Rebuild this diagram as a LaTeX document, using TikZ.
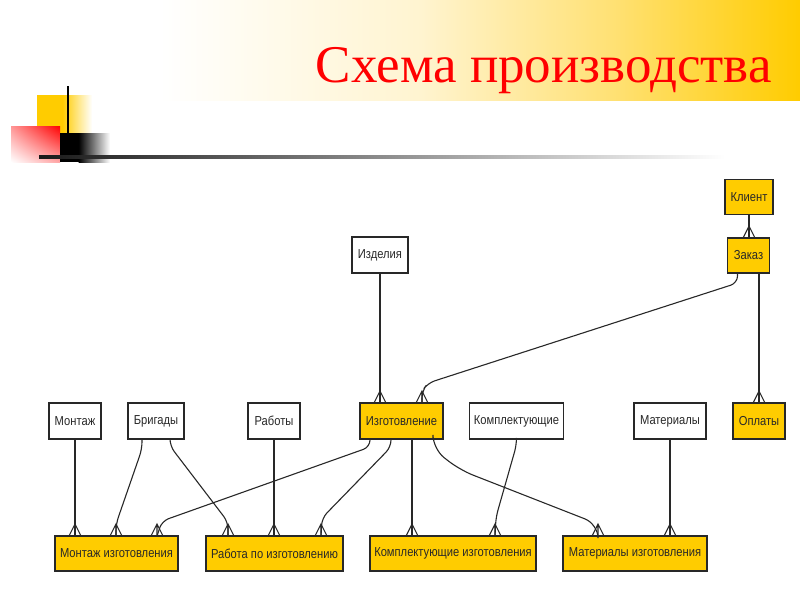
\documentclass[tikz,border=0pt]{standalone}
\usepackage{fontspec}
\setmainfont{Liberation Sans}
\newfontfamily\titlefont{Liberation Serif}
\newfontfamily\boxfont[FakeStretch=0.86]{Liberation Sans}
\usetikzlibrary{calc,shadings}
\definecolor{gold}{RGB}{255,204,0}
\definecolor{bandA}{RGB}{255,244,208}
\definecolor{bandB}{RGB}{255,224,112}
\definecolor{redA}{RGB}{255,150,150}
\definecolor{redB}{RGB}{255,165,165}
\definecolor{linec}{RGB}{40,40,40}
\begin{document}
\begin{tikzpicture}[x=1pt,y=-1pt,
  box/.style={draw=linec, line width=1.2pt, inner sep=0pt, outer sep=0pt, minimum height=36pt,
    font=\boxfont\fontsize{13}{15}\selectfont, text=linec},
  wbox/.style={box, fill=white},
  ybox/.style={box, fill=gold},
  conn/.style={draw=linec, line width=1.1pt, rounded corners=7pt},
  crow/.pic={\draw[draw=linec, line width=1.1pt, line join=miter] (-6,0) -- (0,-12) -- (6,0) (0,-12) -- (0,0);}
]
\useasboundingbox (0,0) rectangle (800,600);
\fill[white] (0,0) rectangle (800,600);
% top band
\shade[left color=white, right color=bandA] (160,0) rectangle (421,100);
\shade[left color=bandA, right color=bandB] (420,0) rectangle (621,100);
\shade[left color=bandB, right color=gold] (620,0) rectangle (800,100);
% decoration
\fill[gold] (37,95) rectangle (63,133);
\shade[left color=gold, right color=white] (62.5,95) rectangle (92,133);
\shade[upper right=red, upper left=redA, lower right=redB, lower left=white] (11,126) rectangle (60,162);
\fill[black] (60,133) rectangle (79,162);
\shade[left color=black, right color=white] (78.5,133) rectangle (110,162);
\draw[black, line width=2pt] (68,86) -- (68,162);
\shade[left color=black!90, right color=white] (39,155.8) rectangle (725,158.3);
% title
\node[anchor=base east, inner sep=0pt, text=red, font=\titlefont\fontsize{53}{53}\selectfont] (title) at (772,82) {Схема производства};

% nodes
\node[ybox, minimum width=48pt, minimum height=35pt] (klient) at (749,197) {Клиент};
\node[ybox, minimum width=42pt, minimum height=35pt] (zakaz) at (748.5,255.5) {Заказ};
\node[wbox, minimum width=56pt] (izdel) at (380,255) {Изделия};
\node[wbox, minimum width=52pt] (montazh) at (75,421) {Монтаж};
\node[wbox, minimum width=56pt] (brig) at (156,421) {Бригады};
\node[wbox, minimum width=52pt] (raboty) at (274,421) {Работы};
\node[ybox, minimum width=83pt] (izgot) at (401.5,421) {Изготовление};
\node[wbox, minimum width=94pt] (kompl) at (516.5,421) {Комплектующие};
\node[wbox, minimum width=72pt] (mater) at (670,421) {Материалы};
\node[ybox, minimum width=52pt] (oplaty) at (759,421) {Оплаты};
\node[ybox, minimum width=123pt, minimum height=35pt] (mi) at (116.5,553.5) {Монтаж изготовления};
\node[ybox, minimum width=137pt, minimum height=35pt] (rpi) at (274.5,553.5) {Работа по изготовлению};
\node[ybox, minimum width=166pt, minimum height=35pt] (ki) at (453,553.5) {Комплектующие изготовления};
\node[ybox, minimum width=144pt, minimum height=35pt] (mati) at (635,553.5) {Материалы изготовления};

% connector end points (crow's feet)
\coordinate (mi1) at (montazh.south |- mi.north);
\coordinate (mi2) at ($(mi.north west)+(61,0)$);
\coordinate (mi3) at ($(mi.north west)+(102,0)$);
\coordinate (rp1) at ($(rpi.north west)+(22,0)$);
\coordinate (rp2) at (raboty.south |- rpi.north);
\coordinate (rp3) at ($(rpi.north west)+(115,0)$);
\coordinate (ki1) at ($(ki.north west)+(42,0)$);
\coordinate (ki2) at ($(ki.north west)+(125,0)$);
\coordinate (ma1) at ($(mati.north west)+(35,0)$);
\coordinate (ma2) at (mater.south |- mati.north);
\coordinate (iz1) at (izdel.south |- izgot.north);
\coordinate (iz2) at ($(izgot.north west)+(62,0)$);
\coordinate (za1) at (klient.south |- zakaz.north);
\coordinate (op1) at (oplaty.north);

% connectors
\draw[conn] (montazh.south) -- (mi1);
\draw[conn] ($(brig.south west)+(14,0)$) -- ++(0,10) -- ($(mi2)+(0,-12)$) -- (mi2);
\draw[conn] ($(brig.south west)+(42,0)$) -- ++(0,7) -- ($(rp1)+(0,-14)$) -- (rp1);
\draw[conn] (raboty.south) -- (rp2);
\draw[conn] ($(izgot.south west)+(10,0)$) -- ++(0,8) -- ($(mi3)+(5,-15)$) -- (mi3);
\draw[conn] ($(izgot.south west)+(31,0)$) -- ++(0,8) -- ($(rp3)+(1,-18)$) -- (rp3);
\draw[conn] ($(izgot.south west)+(52,0)$) -- (ki1);
\draw[conn, rounded corners=14pt] ($(izgot.south east)+(-10,0)$) -- ++(0,10) -- ++(27,21) -- ($(ma1)+(0,-12)$) -- (ma1);
\draw[conn] (kompl.south) -- ++(0,6) -- ($(ki2)+(1,-19)$) -- (ki2);
\draw[conn] (mater.south) -- (ma2);
\draw[conn] (izdel.south) -- (iz1);
\draw[conn] ($(zakaz.south west)+(10,0)$) -- ++(0,10) -- ($(iz2)+(6,-20)$) -- ($(iz2)+(0,-12)$) -- (iz2);
\draw[conn] (klient.south) -- (za1);
\draw[conn] (oplaty.north |- zakaz.south) -- (op1);

% crow's feet
\foreach \p in {mi1,mi2,mi3,rp1,rp2,rp3,ki1,ki2,ma1,ma2,iz1,iz2,za1,op1}
  \pic at (\p) {crow};
\end{tikzpicture}
\end{document}
